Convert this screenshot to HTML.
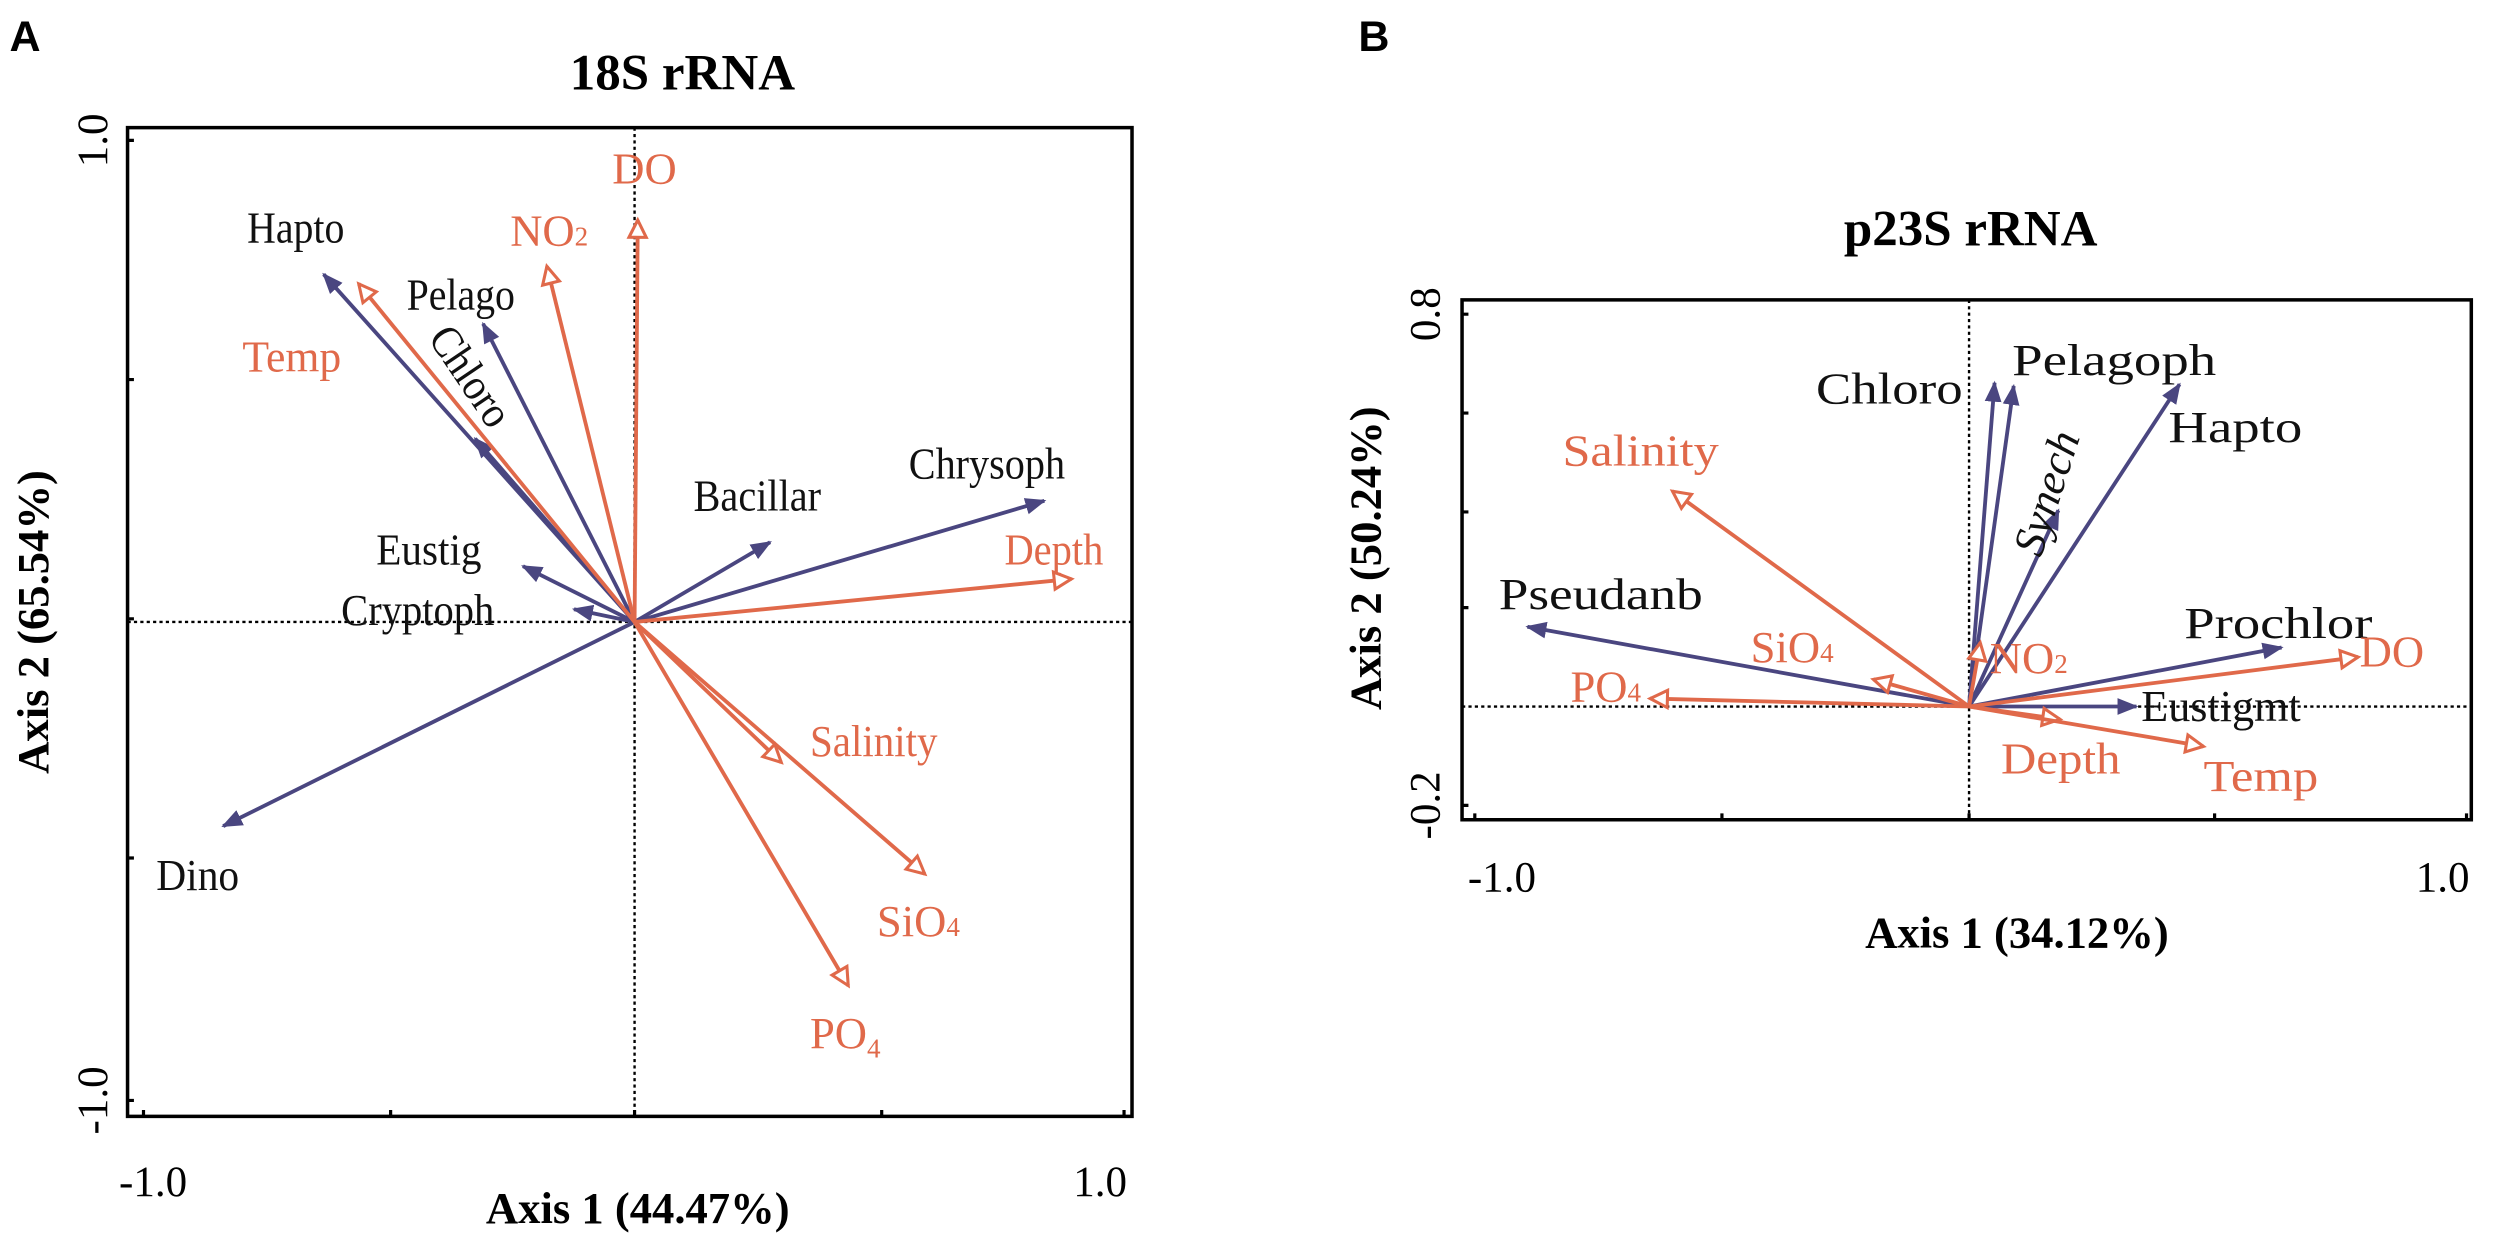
<!DOCTYPE html>
<html><head><meta charset="utf-8"><style>html,body{margin:0;padding:0;background:#fff}svg{display:block}</style></head>
<body>
<svg width="2500" height="1236" viewBox="0 0 1568 775" preserveAspectRatio="none" xmlns="http://www.w3.org/2000/svg" font-family="Liberation Serif, serif">
<defs>
<marker id="p" viewBox="0 0 10 10" refX="9" refY="5" markerWidth="5.5" markerHeight="5.5" orient="auto" markerUnits="strokeWidth"><path d="M0,1 L10,5 L0,9 Z" fill="#4a4680"/></marker>
<marker id="o" viewBox="0 0 12 12" refX="10" refY="6" markerWidth="6" markerHeight="6" orient="auto" markerUnits="strokeWidth"><path d="M1,1.5 L10,6 L1,10.5 Z" fill="#fff" stroke="#e0694a" stroke-width="1.6"/></marker>
</defs>
<text x="6" y="32" font-family="Liberation Sans, sans-serif" font-weight="bold" font-size="27">A</text>
<text x="852" y="32" font-family="Liberation Sans, sans-serif" font-weight="bold" font-size="27">B</text>

<!-- Panel A -->
<text x="428" y="56" text-anchor="middle" font-weight="bold" font-size="32">18S rRNA</text>
<g stroke="#000" fill="none">
<path d="M80,80 H710 V700 H80 Z" stroke-width="2.2"/>
<path d="M80,88 h4 M80,238 h4 M80,388 h4 M80,538 h4 M80,690 h4 M90,700 v-4 M245,700 v-4 M398,700 v-4 M553,700 v-4 M705,700 v-4" stroke-width="2"/>
<path d="M80,390 H710 M398,80 V700" stroke-width="1.5" stroke-dasharray="2,2"/>
</g>
<text transform="translate(67,88) rotate(-90)" text-anchor="middle" font-size="27">1.0</text>
<text transform="translate(67,690) rotate(-90)" text-anchor="middle" font-size="27">-1.0</text>
<text x="96" y="750" text-anchor="middle" font-size="27">-1.0</text>
<text x="690" y="750" text-anchor="middle" font-size="27">1.0</text>
<text x="400" y="767" text-anchor="middle" font-weight="bold" font-size="28">Axis 1 (44.47%)</text>
<text transform="translate(30,390) rotate(-90)" text-anchor="middle" font-weight="bold" font-size="28">Axis 2 (65.54%)</text>
<g stroke="#4a4680" stroke-width="2.4" marker-end="url(#p)">
<line x1="398" y1="390" x2="203" y2="172"/>
<line x1="398" y1="390" x2="298" y2="275"/>
<line x1="398" y1="390" x2="303" y2="203"/>
<line x1="398" y1="390" x2="483" y2="340"/>
<line x1="398" y1="390" x2="655" y2="314"/>
<line x1="398" y1="390" x2="328" y2="355"/>
<line x1="398" y1="390" x2="360" y2="382"/>
<line x1="398" y1="390" x2="140" y2="518"/>
</g>
<g stroke="#e0694a" stroke-width="2.4" marker-end="url(#o)">
<line x1="398" y1="390" x2="400" y2="138"/>
<line x1="398" y1="390" x2="343" y2="167"/>
<line x1="398" y1="390" x2="225" y2="178"/>
<line x1="398" y1="390" x2="672" y2="363"/>
<line x1="398" y1="390" x2="490" y2="478"/>
<line x1="398" y1="390" x2="580" y2="548"/>
<line x1="398" y1="390" x2="532" y2="618"/>
</g>
<g font-size="28" fill="#111">
<text x="155" y="152" textLength="61" lengthAdjust="spacingAndGlyphs">Hapto</text>
<text x="255" y="194" textLength="68" lengthAdjust="spacingAndGlyphs">Pelago</text>
<text transform="translate(268,212) rotate(56)" textLength="70" lengthAdjust="spacingAndGlyphs">Chloro</text>
<text x="435" y="320" textLength="80" lengthAdjust="spacingAndGlyphs">Bacillar</text>
<text x="570" y="300" textLength="98" lengthAdjust="spacingAndGlyphs">Chrysoph</text>
<text x="236" y="354" textLength="66" lengthAdjust="spacingAndGlyphs">Eustig</text>
<text x="214" y="392" textLength="96" lengthAdjust="spacingAndGlyphs">Cryptoph</text>
<text x="98" y="558" textLength="52" lengthAdjust="spacingAndGlyphs">Dino</text>
</g>
<g font-size="28" fill="#e0694a">
<text x="384" y="115">DO</text>
<text x="320" y="154">NO<tspan font-size="17">2</tspan></text>
<text x="152" y="233" textLength="62" lengthAdjust="spacingAndGlyphs">Temp</text>
<text x="630" y="354" textLength="62" lengthAdjust="spacingAndGlyphs">Depth</text>
<text x="508" y="474" textLength="80" lengthAdjust="spacingAndGlyphs">Salinity</text>
<text x="550" y="587">SiO<tspan font-size="17">4</tspan></text>
<text x="508" y="657">PO<tspan font-size="17" dy="6">4</tspan></text>
</g>

<!-- Panel B -->
<text x="1236" y="154" text-anchor="middle" font-weight="bold" font-size="32">p23S rRNA</text>
<g stroke="#000" fill="none">
<path d="M917,188 H1550 V514 H917 Z" stroke-width="2.2"/>
<path d="M917,197 h4 M917,259 h4 M917,321 h4 M917,381 h4 M917,505 h4 M925,514 v-4 M1080,514 v-4 M1235,514 v-4 M1389,514 v-4 M1547,514 v-4" stroke-width="2"/>
<path d="M917,443 H1550 M1235,188 V514" stroke-width="1.5" stroke-dasharray="2,2"/>
</g>
<text transform="translate(903,197) rotate(-90)" text-anchor="middle" font-size="27">0.8</text>
<text transform="translate(903,505) rotate(-90)" text-anchor="middle" font-size="27">-0.2</text>
<text x="942" y="559" text-anchor="middle" font-size="27">-1.0</text>
<text x="1532" y="559" text-anchor="middle" font-size="27">1.0</text>
<text x="1265" y="594" text-anchor="middle" font-weight="bold" font-size="28">Axis 1 (34.12%)</text>
<text transform="translate(866,350) rotate(-90)" text-anchor="middle" font-weight="bold" font-size="28">Axis 2 (50.24%)</text>
<g stroke="#4a4680" stroke-width="2.4" marker-end="url(#p)">
<line x1="1235" y1="443" x2="1251" y2="240"/>
<line x1="1235" y1="443" x2="1263" y2="242"/>
<line x1="1235" y1="443" x2="1291" y2="320"/>
<line x1="1235" y1="443" x2="1367" y2="241"/>
<line x1="1235" y1="443" x2="958" y2="393"/>
<line x1="1235" y1="443" x2="1431" y2="406"/>
<line x1="1235" y1="443" x2="1340" y2="443"/>
</g>
<g stroke="#e0694a" stroke-width="2.4" marker-end="url(#o)">
<line x1="1235" y1="443" x2="1049" y2="308"/>
<line x1="1235" y1="443" x2="1175" y2="426"/>
<line x1="1235" y1="443" x2="1035" y2="438"/>
<line x1="1235" y1="443" x2="1242" y2="403"/>
<line x1="1235" y1="443" x2="1479" y2="412"/>
<line x1="1235" y1="443" x2="1292" y2="451"/>
<line x1="1235" y1="443" x2="1382" y2="468"/>
</g>
<g font-size="28" fill="#111">
<text x="1139" y="253" textLength="92" lengthAdjust="spacingAndGlyphs">Chloro</text>
<text x="1262" y="235" textLength="128" lengthAdjust="spacingAndGlyphs">Pelagoph</text>
<text transform="translate(1280,350) rotate(-72)" font-style="italic" textLength="80" lengthAdjust="spacingAndGlyphs">Synech</text>
<text x="1360" y="277" textLength="84" lengthAdjust="spacingAndGlyphs">Hapto</text>
<text x="940" y="382" textLength="128" lengthAdjust="spacingAndGlyphs">Pseudanb</text>
<text x="1370" y="400" textLength="118" lengthAdjust="spacingAndGlyphs">Prochlor</text>
<text x="1343" y="452" textLength="100" lengthAdjust="spacingAndGlyphs">Eustigmt</text>
</g>
<g font-size="28" fill="#e0694a">
<text x="980" y="292" textLength="98" lengthAdjust="spacingAndGlyphs">Salinity</text>
<text x="1098" y="415">SiO<tspan font-size="17">4</tspan></text>
<text x="985" y="440">PO<tspan font-size="17">4</tspan></text>
<text x="1248" y="422">NO<tspan font-size="17">2</tspan></text>
<text x="1480" y="418">DO</text>
<text x="1255" y="485" textLength="75" lengthAdjust="spacingAndGlyphs">Depth</text>
<text x="1382" y="496" textLength="72" lengthAdjust="spacingAndGlyphs">Temp</text>
</g>
</svg>
</body></html>
